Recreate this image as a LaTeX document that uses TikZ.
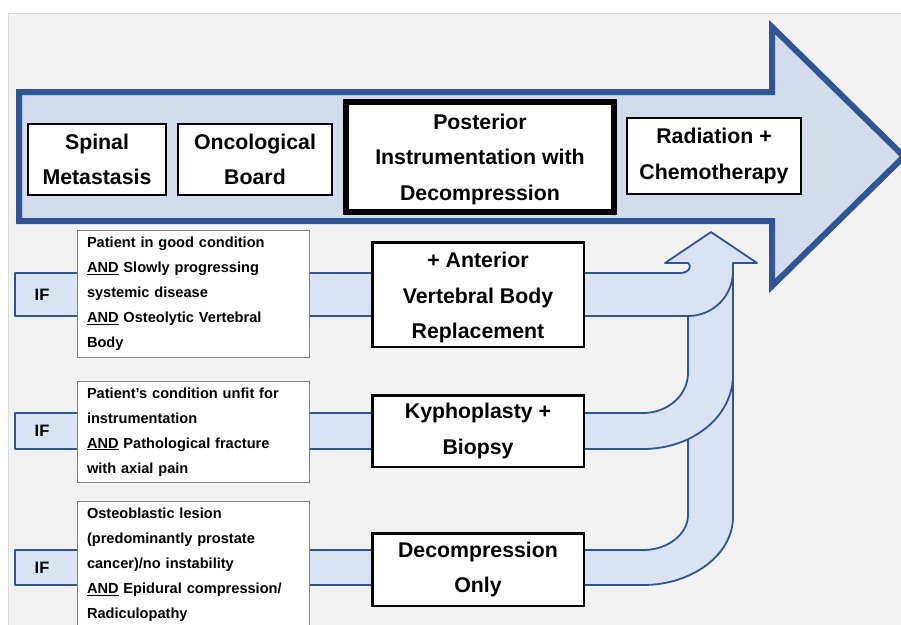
\documentclass[tikz,border=0pt]{standalone}
\usepackage{fontspec}
\setmainfont{Liberation Sans}
\definecolor{arrowblue}{HTML}{2F5597}
\definecolor{mainfill}{HTML}{D3DCEA}
\definecolor{bandfill}{HTML}{DAE3F3}
\definecolor{panel}{HTML}{F2F2F2}
\definecolor{panelline}{HTML}{DADADA}
\definecolor{condgray}{HTML}{808080}
\newcommand\mybigfont{\fontsize{21.3}{35.5}\selectfont\bfseries}
\newcommand\mycondfont{\fontsize{14.6}{25}\selectfont\bfseries}
\newcommand\myiffont{\fontsize{16.5}{19}\selectfont\bfseries}
\begin{document}
\begin{tikzpicture}[x=1pt,y=-1pt,
  topbox/.style={draw=black, line width=2pt, fill=white, inner sep=0pt, align=center, font=\mybigfont},
  thickbox/.style={topbox, line width=5.5pt},
  resbox/.style={topbox, line width=2.5pt},
  condbox/.style={draw=condgray, line width=1pt, fill=white, inner xsep=9.5pt, inner ysep=0pt, text width=213pt, align=left, font=\mycondfont},
  iflabel/.style={font=\myiffont, inner sep=0pt},
  bandline/.style={draw=arrowblue, line width=1.8pt, line join=round},
  mainarrow/.style={fill=mainfill, draw=arrowblue, line width=6pt, line join=miter}]
\useasboundingbox (0,0) rectangle (901,624);
\fill[white] (0,0) rectangle (901,624);
\draw[panelline, fill=panel, line width=1pt] (8,13) rectangle (910,640);
% main arrow
\draw[mainarrow] (19,92) -- (772,92) -- (772,27) -- (904,156.5) -- (772,286) -- (772,221) -- (19,221) -- cycle;
% band 3
\fill[bandfill] (15,550) -- (643,550) .. controls (668,550) and (688,534) .. (688,515) -- (688,300) -- (733,265) -- (733,517) .. controls (733,554) and (693,585) .. (643,585) -- (15,585) -- cycle;
\draw[bandline] (688,430) -- (688,515) .. controls (688,534) and (668,550) .. (643,550) -- (15,550) -- (15,585) -- (643,585) .. controls (693,585) and (733,554) .. (733,517) -- (733,265);
% band 2
\fill[bandfill] (15,413) -- (643,413) .. controls (668,413) and (688,395) .. (688,373) -- (688,300) -- (733,265) -- (733,375) .. controls (733,416) and (693,449) .. (643,449) -- (15,449) -- cycle;
\draw[bandline] (688,300) -- (688,373) .. controls (688,395) and (668,413) .. (643,413) -- (15,413) -- (15,449) -- (643,449) .. controls (693,449) and (733,416) .. (733,375) -- (733,265);
% band 1 with head
\filldraw[fill=bandfill, bandline] (15,273) -- (680,273) .. controls (690,273) and (692,265) .. (688,263) -- (665,263) -- (711,232) -- (757,263) -- (733,263) -- (733,271) .. controls (733,296) and (713,316) .. (688,316) -- (15,316) -- cycle;
% top boxes
\node[topbox, minimum width=138pt, minimum height=71pt] (spinal) at (97,159.5) {Spinal\\Metastasis};
\node[topbox, minimum width=154pt, minimum height=71pt] (board) at (255,159.5) {Oncological\\Board};
\node[thickbox, minimum width=268pt, minimum height=110pt] (posterior) at (480,157) {\rule{0pt}{19.5pt}Posterior\\Instrumentation with\\Decompression};
\node[topbox, minimum width=174pt, minimum height=76pt] (radiation) at (714,156) {Radiation +\\Chemotherapy};
% result boxes
\node[resbox, minimum width=211.5pt, minimum height=104.5pt] (anterior) at (478,294.5) {\rule{0pt}{21.5pt}+ Anterior\\Vertebral Body\\Replacement};
\node[resbox, minimum width=211.5pt, minimum height=71.5pt] (kypho) at (478,431) {Kyphoplasty +\\Biopsy};
\node[resbox, minimum width=211.5pt, minimum height=72.5pt] (decomp) at (478,569.5) {Decompression\\Only};
% condition boxes
\node[condbox, minimum height=127pt] (cond1) at (193.5,294) {Patient in good condition\\\underline{AND} Slowly progressing\\systemic disease\\\underline{AND} Osteolytic Vertebral\\Body};
\node[condbox, minimum height=101pt] (cond2) at (193.5,432) {Patient’s condition unfit for\\instrumentation\\\underline{AND} Pathological fracture\\with axial pain};
\node[condbox, minimum height=124pt] (cond3) at (193.5,563) {\rule{0pt}{14.5pt}Osteoblastic lesion\\(predominantly prostate\\cancer)/no instability\\\underline{AND} Epidural compression/\\Radiculopathy};
% IF labels
\node[iflabel] (if1) at (42,294.5) {IF};
\node[iflabel] (if2) at (42,431) {IF};
\node[iflabel] (if3) at (42,567.5) {IF};
\end{tikzpicture}
\end{document}
